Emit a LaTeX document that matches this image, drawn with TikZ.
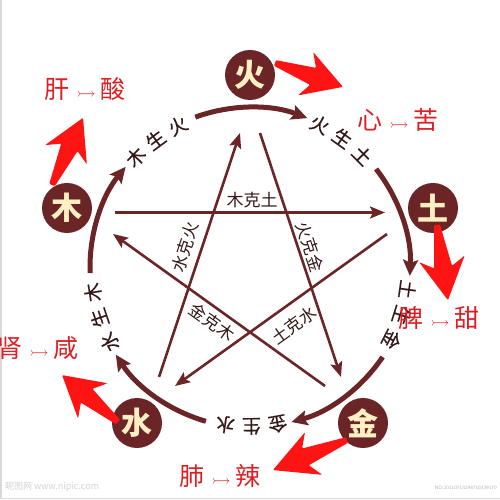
\documentclass[tikz,border=0pt]{standalone}
\usepackage{fontspec}
\usepackage{amssymb}
\usetikzlibrary{arrows.meta,calc}
\newfontfamily\cjk{Noto Sans CJK SC}
\newfontfamily\cjkmid[FakeBold=0.4]{Noto Sans CJK SC}

\definecolor{wxbrown}{RGB}{107,37,38}
\definecolor{wxink}{RGB}{52,24,24}
\definecolor{wxcream}{RGB}{255,240,196}
\definecolor{wxred}{RGB}{255,20,20}
\definecolor{wxpen}{RGB}{222,30,34}

\tikzset{
  elem/.style={circle,fill=wxbrown,minimum size=50pt,inner sep=0pt,text=wxcream,
    font=\cjk\bfseries\fontsize{31}{31}\selectfont},
  sheng/.style={draw=wxbrown,line width=5pt,-{Stealth[length=16pt,width=15pt,inset=3pt]}},
  ke/.style={draw=wxbrown,line width=2.6pt,-{Stealth[length=15pt,width=12pt,inset=3pt]}},
  shengtxt/.style={inner sep=0pt,text=wxink,font=\cjkmid\fontsize{19}{19}\selectfont},
  ketxt/.style={inner sep=0pt,text=wxink,font=\cjk\fontsize{17}{17}\selectfont},
  pen/.style={inner sep=0pt,text=wxpen,font=\cjk\fontsize{25}{25}\selectfont},
  wmark/.style={inner sep=0pt,text=gray!35,font=\cjk\fontsize{9}{9}\selectfont},
}
\newcommand\tastearrow{\hspace{7pt}{\fontsize{17}{17}\selectfont$\rightarrowtail$}\hspace{5pt}}
% big red hand-drawn arrow: tail, angle, length
\newcommand\redarrow[3]{%
  \fill[wxred,shift={(#1)},rotate=#2,rounded corners=1pt]
    (0,-3) -- ({0.56*#3},-9) -- ({0.45*#3},-23) -- (#3,0)
    -- ({0.45*#3},23) -- ({0.56*#3},9) -- (0,3) -- cycle;}

\begin{document}
\begin{tikzpicture}[x=1pt,y=1pt]
\useasboundingbox (0,0) rectangle (500,500);
\coordinate (ctr) at (250,232.5);

% edge of the scan
\draw[gray!30,line width=1.5pt] (0.75,500) -- (0.75,1.5) -- (500,1.5);

% ke cycle (star)
\coordinate (mukeS) at (115,287.5);  \coordinate (mukeE) at (385,287.5);
\coordinate (tukeS) at (387,266);    \coordinate (tukeE) at (175,114);
\coordinate (shuikeS) at (159,123);  \coordinate (shuikeE) at (240,367);
\coordinate (huokeS) at (260,367);   \coordinate (huokeE) at (341,123);
\coordinate (jinkeS) at (325,114);   \coordinate (jinkeE) at (113,266);
\draw[ke] (mukeS) -- (mukeE);
\draw[ke] (tukeS) -- (tukeE);
\draw[ke] (shuikeS) -- (shuikeE);
\draw[ke] (huokeS) -- (huokeE);
\draw[ke] (jinkeS) -- (jinkeE);

% Text Node
\node[ketxt] (mukeL) at (252,300) {木克土};
\node[ketxt,rotate=35.6] (tukeL) at (294,175) {土克水};
\node[ketxt,rotate=71.6] (shuikeL) at (185,253) {水克火};
\node[ketxt,rotate=-71.6] (huokeL) at (310,253) {火克金};
\node[ketxt,rotate=-35.6] (jinkeL) at (212,178) {金克木};

% sheng cycle (ring)
\foreach \ang/\a/\b/\c in {162/木/生/火,90/火/生/土,18/土/生/金,-54/金/生/水,-126/水/生/木}{
  \draw[sheng] ($(ctr)+(\ang+20:160)$) arc[start angle=\ang+20,end angle=\ang-21,radius=160pt];
  \node[shengtxt,rotate=\ang-116] at ($(ctr)+(\ang-26:159)$) {\a};
  \node[shengtxt,rotate=\ang-125.5] at ($(ctr)+(\ang-35.5:159)$) {\b};
  \node[shengtxt,rotate=\ang-135] at ($(ctr)+(\ang-45:159)$) {\c};
}

% elements
\node[elem] (huo) at (250,425) {火};
\node[elem] (tu) at (433,292) {土};
\node[elem] (jin) at (363,77) {金};
\node[elem] (shui) at (137,77) {水};
\node[elem] (mu) at (67,292) {木};

% red marks
\redarrow{52,315}{65.2}{74}
\redarrow{275,437}{-19.4}{72}
\redarrow{437,275}{-81.7}{76}
\redarrow{118,78}{140}{73}
\redarrow{347,60}{202.1}{80}

\node[pen] (gan) at (85,411) {肝\tastearrow 酸};
\node[pen] (xin) at (398,380) {心\tastearrow 苦};
\node[pen] (pi) at (439,182) {脾\tastearrow 甜};
\node[pen] (shen) at (38,152) {肾\tastearrow 咸};
\node[pen] (fei) at (220,24) {肺\tastearrow 辣};

% watermark
\node[wmark,anchor=west] (site) at (5,13) {昵图网 www.nipic.com};
\node[wmark,anchor=east,font=\sffamily\fontsize{5}{5}\selectfont,text=gray!60] (no) at (497,12) {NO:20110713294710339170};
\end{tikzpicture}
\end{document}
